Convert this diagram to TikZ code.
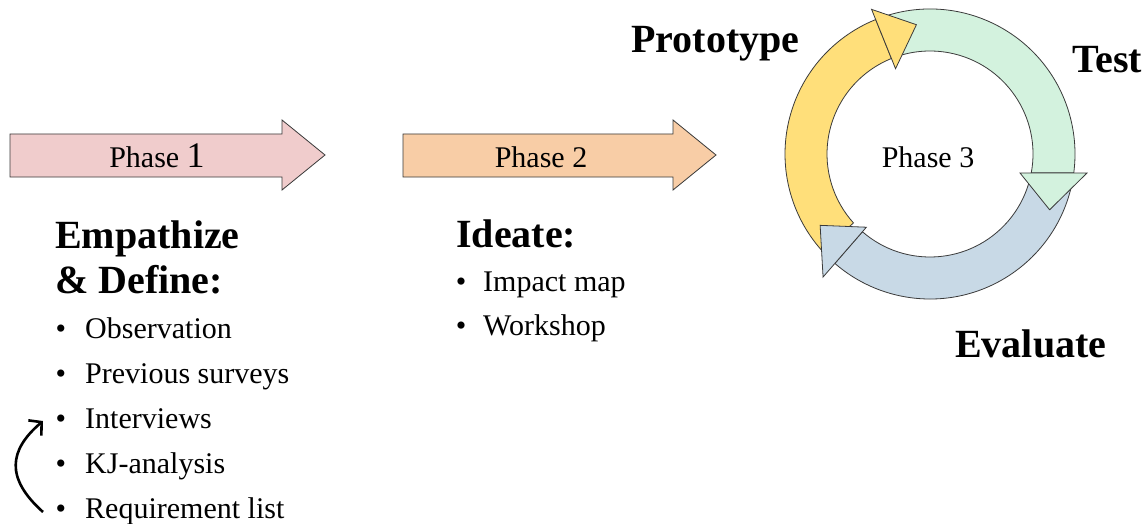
\documentclass[tikz,border=0pt]{standalone}
\usepackage{fontspec}
\setmainfont{Liberation Serif}
\usetikzlibrary{arrows.meta}

\definecolor{phaseone}{HTML}{F0CCCC}
\definecolor{phasetwo}{HTML}{F8CDA6}
\definecolor{protoyellow}{HTML}{FFDF7A}
\definecolor{testgreen}{HTML}{D3F2DE}
\definecolor{evalblue}{HTML}{C8D9E6}
\definecolor{edge}{HTML}{3A3A3A}

\begin{document}
\begin{tikzpicture}[x=1pt,y=-1pt,
  shapeline/.style={draw=edge, line width=0.8pt, line join=miter},
  heading/.style={font=\fontsize{40}{44}\selectfont\bfseries, inner sep=0pt, anchor=base west},
  item/.style={font=\fontsize{30}{34}\selectfont, inner sep=0pt, anchor=base west},
  dot/.style={font=\fontsize{30}{34}\selectfont, inner sep=0pt, anchor=base},
  phaselabel/.style={font=\fontsize{30}{34}\selectfont, inner sep=0pt, anchor=base}]

\useasboundingbox[fill=white] (0,0) rectangle (1148,524);

% ---- Phase 1 and Phase 2 block arrows ----
\path[shapeline, fill=phaseone] (10,134) -- (282,134) -- (282,120) -- (325,155)
  -- (282,190) -- (282,177) -- (10,177) -- cycle;
\node[phaselabel] (p1) at (157,167) {Phase {\fontsize{36}{38}\selectfont 1}};

\path[shapeline, fill=phasetwo] (403,134) -- (673,134) -- (673,120) -- (716,155)
  -- (673,190) -- (673,177) -- (403,177) -- cycle;
\node[phaselabel] (p2) at (541,167) {Phase 2};

% ---- Phase 3 cycle ----
\begin{scope}[shift={(930,154)}]
  % arc bodies (clockwise); green and blue meet on the green head's base line
  \path[shapeline, fill=protoyellow] (222:145pt) arc[start angle=222, end angle=112, radius=145pt]
    -- (112:103pt) arc[start angle=112, end angle=222, radius=103pt] -- cycle;
  \path[shapeline, fill=testgreen] (108:145pt) arc[start angle=108, end angle=-7.5, radius=145pt]
    -- (-10.6:103pt) arc[start angle=-10.6, end angle=108, radius=103pt] -- cycle;
  \path[shapeline, fill=evalblue] (-7.5:145pt) arc[start angle=-7.5, end angle=-131, radius=145pt]
    -- (-131:103pt) arc[start angle=-131, end angle=-10.6, radius=103pt] -- cycle;
  % arrow heads
  \path[shapeline, fill=testgreen] (90pt,-19pt) -- (157pt,-19pt) -- (-25:132pt) -- cycle;
  \path[shapeline, fill=protoyellow] (112:92pt) -- (112:156pt) -- (96:130pt) -- cycle;
  \path[shapeline, fill=evalblue] (229:97pt) -- (229:163pt) -- (213:131pt) -- cycle;
\end{scope}
\node[phaselabel] (p3) at (928,167) {Phase 3};

\node[heading] (proto) at (631,53) {Prototype};
\node[heading] (test) at (1072,73) {Test};
\node[heading] (eval) at (955,357) {Evaluate};

% ---- Empathize & Define ----
\node[heading] (emp) at (55,248) {Empathize};
\node[heading] (def) at (55,293) {\& Define:};
\foreach \name/\txt/\y in {obs/Observation/338, prev/Previous surveys/383,
    intv/Interviews/428, kj/KJ-analysis/473, req/Requirement list/518}{
  \node[dot] (\name-b) at (61,\y) {•};
  \node[item] (\name) at (85,\y) {\txt};
}
\coordinate (loopstart) at (43,512);
\coordinate (loopend) at (43,421);
\draw[line width=2.6pt, -{Straight Barb[length=9pt,width=20pt]}]
  (loopstart) .. controls (5,478) and (9,450) .. (loopend);

% ---- Ideate ----
\node[heading] (idea) at (456,247) {Ideate:};
\foreach \name/\txt/\y in {imp/Impact map/291, work/Workshop/335}{
  \node[dot] (\name-b) at (461,\y) {•};
  \node[item] (\name) at (483,\y) {\txt};
}
\end{tikzpicture}
\end{document}
